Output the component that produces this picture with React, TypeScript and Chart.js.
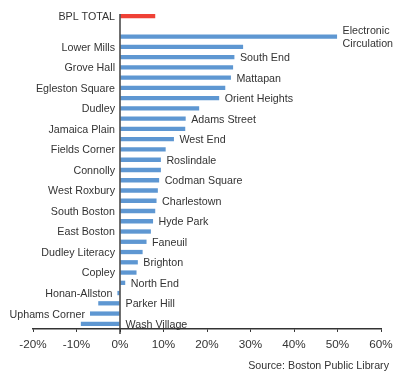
import React, { useEffect, useRef } from 'react';
import { Chart, registerables } from 'chart.js';

Chart.register(...registerables);

const categories: (string | string[])[] = [
  'BPL TOTAL', '', ['Electronic', 'Circulation'], 'Lower Mills', 'South End', 'Grove Hall',
  'Mattapan', 'Egleston Square', 'Orient Heights', 'Dudley', 'Adams Street', 'Jamaica Plain',
  'West End', 'Fields Corner', 'Roslindale', 'Connolly', 'Codman Square', 'West Roxbury',
  'Charlestown', 'South Boston', 'Hyde Park', 'East Boston', 'Faneuil', 'Dudley Literacy',
  'Brighton', 'Copley', 'North End', 'Honan-Allston', 'Parker Hill', 'Uphams Corner', 'Wash Village',
];

const values: (number | null)[] = [
  8.1, null, 49.9, 28.3, 26.3, 26.0,
  25.5, 24.2, 22.8, 18.2, 15.1, 15.0,
  12.4, 10.5, 9.4, 9.4, 9.0, 8.7,
  8.4, 8.1, 7.6, 7.1, 6.1, 5.2,
  4.1, 3.8, 1.2, -0.6, -5.0, -6.9, -9.0,
];

const xMin = -20;
const xMax = 60;
const xStep = 10;
const sourceText = 'Source: Boston Public Library';

const FONT = "'Liberation Sans', Arial, sans-serif";
const TEXT = '#333333';

const labelPlugin = {
  id: 'sideLabels',
  afterDatasetsDraw(chart: any) {
    const { ctx, chartArea, scales } = chart;
    const xs = scales.x;
    const ys = scales.y;
    const zero = xs.getPixelForValue(0);
    ctx.save();
    ctx.strokeStyle = '#333333';
    ctx.lineWidth = 1.4;
    ctx.beginPath();
    ctx.moveTo(zero, chartArea.top + 3);
    ctx.lineTo(zero, chartArea.bottom + 5);
    ctx.stroke();

    ctx.font = `10.7px ${FONT}`;
    ctx.fillStyle = TEXT;
    ctx.textBaseline = 'middle';
    categories.forEach((cat, i) => {
      const v = values[i];
      if (v === null || cat === '') return;
      const y = ys.getPixelForValue(i) + 1;
      const leftSide = i === 0 || i % 2 === 1;
      const lines = Array.isArray(cat) ? cat : [cat];
      const lh = 13;
      const y0 = y - ((lines.length - 1) * lh) / 2;
      if (leftSide) {
        ctx.textAlign = 'right';
        const x = xs.getPixelForValue(Math.min(v, 0)) - 5;
        lines.forEach((l, k) => ctx.fillText(l, x, y0 + k * lh));
      } else {
        ctx.textAlign = 'left';
        const x = xs.getPixelForValue(Math.max(v, 0)) + 5.5;
        lines.forEach((l, k) => ctx.fillText(l, x, y0 + k * lh));
      }
    });
    ctx.restore();
  },
};

export default function App() {
  const ref = useRef<HTMLCanvasElement | null>(null);

  useEffect(() => {
    if (!ref.current) return;
    const chart = new Chart(ref.current, {
      type: 'bar',
      data: {
        labels: categories.map((c) => (Array.isArray(c) ? c.join(' ') : c)),
        datasets: [
          {
            data: values,
            backgroundColor: values.map((_, i) => (i === 0 ? '#EF4136' : '#5E97D2')),
            borderWidth: 0,
            barPercentage: 0.42,
            categoryPercentage: 1,
          },
        ],
      },
      options: {
        indexAxis: 'y',
        animation: false,
        responsive: true,
        maintainAspectRatio: false,
        layout: { padding: { left: 33, right: 12, top: 11, bottom: 13 } },
        plugins: {
          legend: { display: false },
          tooltip: { enabled: false },
        },
        scales: {
          x: {
            type: 'linear',
            min: xMin,
            max: xMax,
            afterFit: (scale: any) => {
              scale.paddingLeft = 0;
              scale.paddingRight = 0;
            },
            ticks: {
              stepSize: xStep,
              callback: (v: any) => `${v}%`,
              font: { size: 11.7, family: FONT },
              color: TEXT,
              padding: 6,
            },
            grid: {
              display: true,
              drawOnChartArea: false,
              drawTicks: true,
              tickLength: 3,
              color: '#333333',
            },
            border: { display: true, color: '#333333', width: 1.4 },
          },
          y: {
            type: 'category',
            display: false,
            offset: true,
          },
        },
      },
      plugins: [labelPlugin],
    });
    return () => chart.destroy();
  }, []);

  return (
    <div style={{ position: 'fixed', left: 0, top: 0, width: 393, height: 371, background: '#fff' }}>
      <canvas ref={ref} />
      <div
        style={{
          position: 'absolute',
          right: 4,
          top: 359,
          fontFamily: FONT,
          fontSize: '10.7px',
          color: TEXT,
          lineHeight: '13px',
          whiteSpace: 'nowrap',
        }}
      >
        {sourceText}
      </div>
    </div>
  );
}
